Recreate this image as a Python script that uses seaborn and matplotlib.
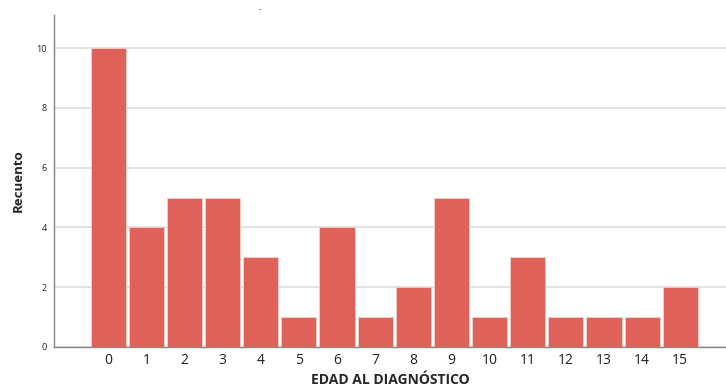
import seaborn as sns
import matplotlib.pyplot as plt
import pandas as pd

# Datos
edades = [str(i) for i in range(16)]
recuento = [10, 4, 5, 5, 3, 1, 4, 1, 2, 5, 1, 3, 1, 1, 1, 2]

df = pd.DataFrame({'edad': edades, 'recuento': recuento})

sns.set_style('white')
plt.rcParams['font.family'] = ['Open Sans', 'DejaVu Sans']

fig = plt.figure(figsize=(7.26, 3.89), dpi=100)
ax = fig.add_axes([0.0744, 0.108, 0.9256, 0.853])

sns.barplot(data=df, x='edad', y='recuento', color='#E0605A', saturation=1,
            width=0.92, edgecolor='#f4d0cc', linewidth=0.6, ax=ax, zorder=3)

ax.set_xlim(-1.42, 16.2)
ax.set_ylim(0, 11.1)
ax.set_yticks([0, 2, 4, 6, 8, 10])
ax.yaxis.grid(True, color='#dddddd', linewidth=1.2, zorder=0)
ax.set_axisbelow(True)

for s in ['top', 'right']:
    ax.spines[s].set_visible(False)
for s in ['left', 'bottom']:
    ax.spines[s].set_color('#888888')
    ax.spines[s].set_linewidth(1.0)

ax.tick_params(axis='y', length=0, pad=5, labelsize=6.5, colors='#222222')
ax.tick_params(axis='x', length=0, pad=4, labelsize=10, colors='#222222')

ax.set_xlabel('EDAD AL DIAGNÓSTICO', fontsize=10, fontweight='bold', labelpad=4)
ax.set_ylabel('Recuento', fontsize=9.5, fontweight='bold')
ax.yaxis.set_label_coords(-0.043, 0.5)

fig.text(0.358, 0.975, '-', fontsize=6, ha='center', va='center', color='#333333')

fig.savefig('out.png', dpi=100)
